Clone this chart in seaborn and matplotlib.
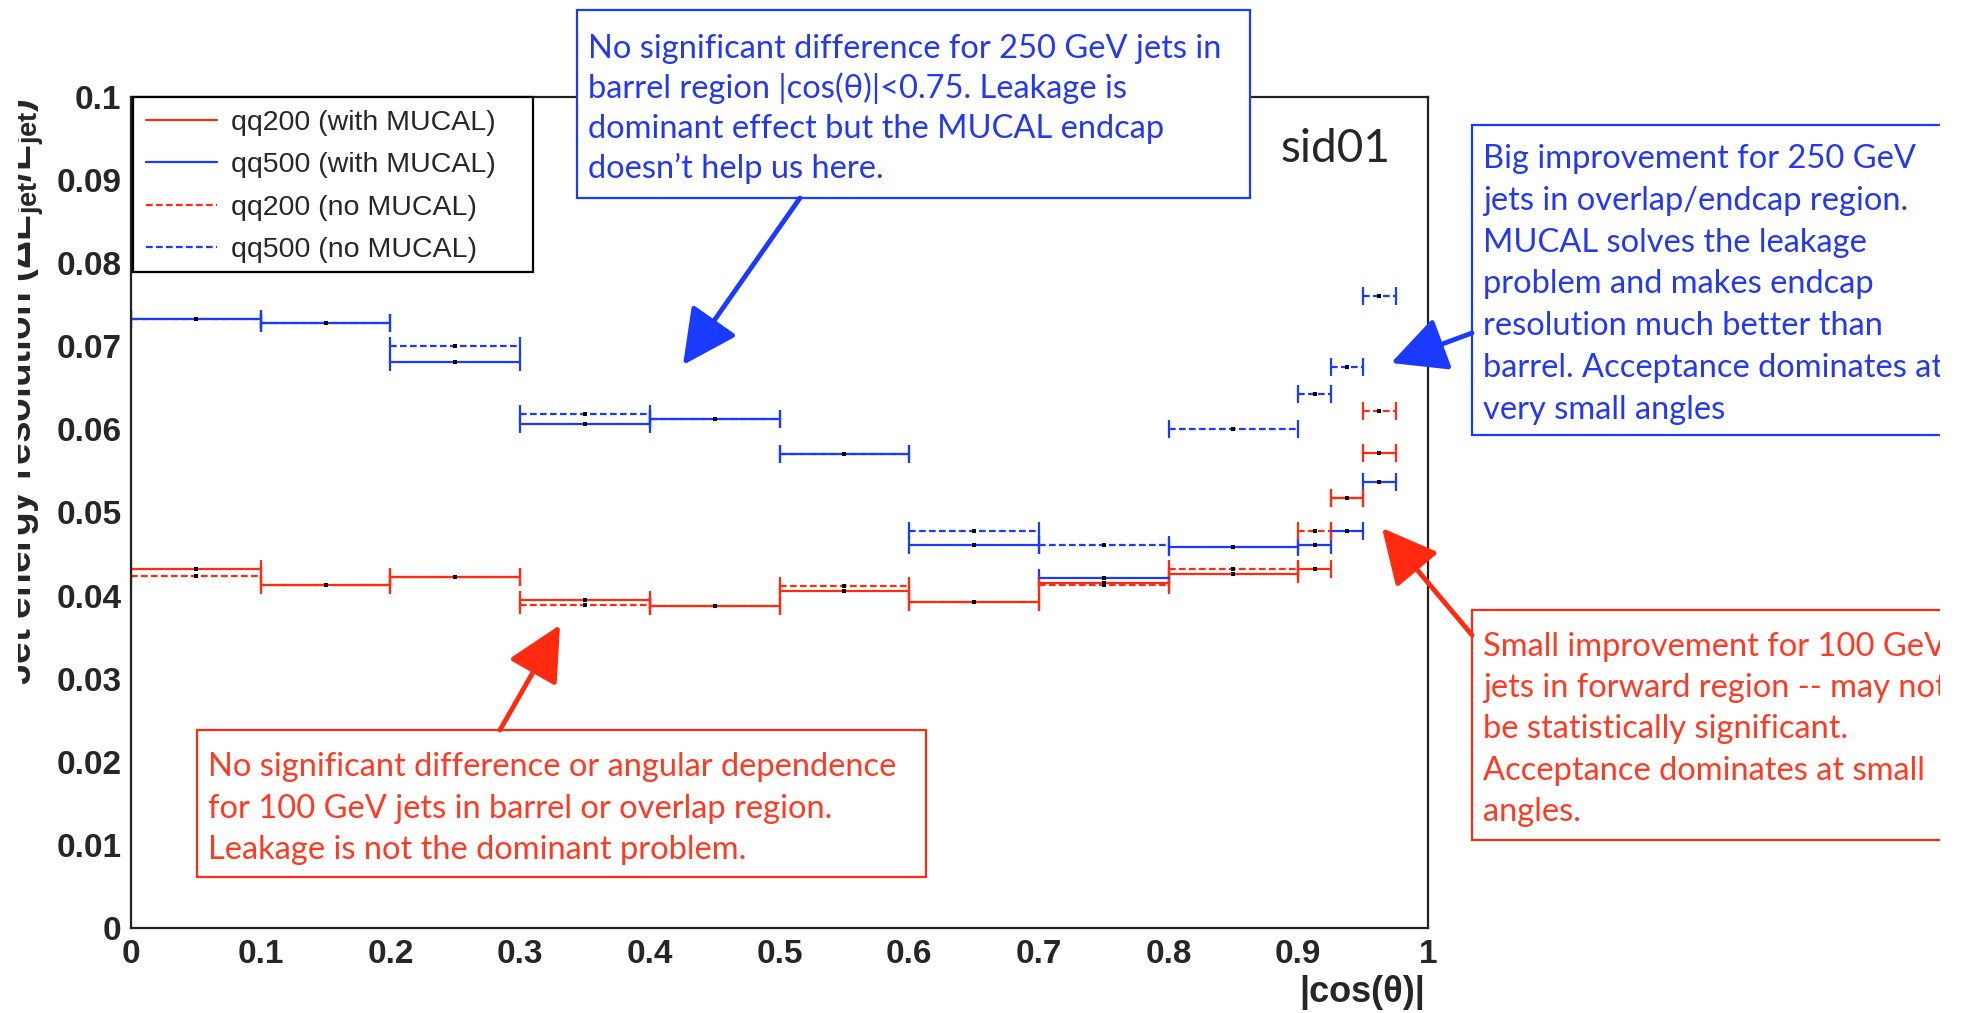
import numpy as np
import pandas as pd
import seaborn as sns
import matplotlib.pyplot as plt
from matplotlib.lines import Line2D
from matplotlib.patches import Rectangle, FancyArrowPatch
from matplotlib.transforms import Bbox, TransformedBbox
from matplotlib.ticker import MultipleLocator, FuncFormatter

# |cos(theta)| bins (low / high edges)
bin_lo = [0.0, 0.1, 0.2, 0.3, 0.4, 0.5, 0.6, 0.7, 0.8, 0.9, 0.925, 0.95]
bin_hi = [0.1, 0.2, 0.3, 0.4, 0.5, 0.6, 0.7, 0.8, 0.9, 0.925, 0.95, 0.975]

# jet energy resolution per bin
qq200_mucal = [0.0432, 0.0413, 0.0422, 0.0395, 0.0387, 0.0406, 0.0392, 0.0415, 0.0426, 0.0432, 0.0517, 0.0572]
qq500_mucal = [0.0733, 0.0728, 0.0681, 0.0606, 0.0613, 0.0570, 0.0461, 0.0421, 0.0458, 0.0461, 0.0478, 0.0537]
qq200_nomucal = [0.0423, 0.0413, 0.0422, 0.0389, 0.0387, 0.0412, 0.0392, 0.0413, 0.0432, 0.0478, 0.0517, 0.0622]
qq500_nomucal = [0.0733, 0.0728, 0.0700, 0.0619, 0.0613, 0.0570, 0.0478, 0.0461, 0.0600, 0.0643, 0.0675, 0.0760]

series_labels = ["qq200 (with MUCAL)", "qq500 (with MUCAL)", "qq200 (no MUCAL)", "qq500 (no MUCAL)"]
series_values = [qq200_mucal, qq500_mucal, qq200_nomucal, qq500_nomucal]

y_label = "Jet energy resolution (\u0394E$_{\\mathbf{jet}}$/E$_{\\mathbf{jet}}$)"
x_label = "|cos(\u03b8)|"
tag = "sid01"

note_barrel_250 = ["No significant difference for 250 GeV jets in",
                   "barrel region |cos(\u03b8)|<0.75. Leakage is",
                   "dominant effect but the MUCAL endcap",
                   "doesn\u2019t help us here."]
note_endcap_250 = ["Big improvement for 250 GeV",
                   "jets in overlap/endcap region.",
                   "MUCAL solves the leakage",
                   "problem and makes endcap",
                   "resolution much better than",
                   "barrel. Acceptance dominates at",
                   "very small angles"]
note_barrel_100 = ["No significant difference or angular dependence",
                   "for 100 GeV jets in barrel or overlap region.",
                   "Leakage is not the dominant problem."]
note_forward_100 = ["Small improvement for 100 GeV",
                    "jets in forward region -- may not",
                    "be statistically significant.",
                    "Acceptance dominates at small",
                    "angles."]

RED = "#ff2a10"
BLUE = "#1a3aff"
TXT_RED = "#ff3a22"
TXT_BLUE = "#2438f0"
colors = [RED, BLUE, RED, BLUE]
styles = ["-", "-", (0, (3, 1.5)), (0, (3, 1.5))]

# long tables for seaborn
seg_rows, cap_rows, mid_rows = [], [], []
for lab, vals in zip(series_labels, series_values):
    for i, (lo, hi, v) in enumerate(zip(bin_lo, bin_hi, vals)):
        seg_rows += [dict(series=lab, bin=i, x=lo, res=v), dict(series=lab, bin=i, x=hi, res=v)]
        cap_rows += [dict(series=lab, x=lo, res=v), dict(series=lab, x=hi, res=v)]
        mid_rows.append(dict(series=lab, x=(lo + hi) / 2, res=v))
seg = pd.DataFrame(seg_rows)
caps = pd.DataFrame(cap_rows)
mids = pd.DataFrame(mid_rows)

sns.set_style("white")
plt.rcParams["font.family"] = ["Liberation Sans", "DejaVu Sans"]
plt.rcParams["mathtext.fontset"] = "custom"
plt.rcParams["mathtext.bf"] = "Liberation Sans:bold"
plt.rcParams["mathtext.rm"] = "Liberation Sans:bold"

W, H = 1961, 1013
fig = plt.figure(figsize=(W / 100, H / 100), dpi=100)
fx = lambda px: px / W
fy = lambda py: 1 - py / H
ax = fig.add_axes([fx(131), fy(928), fx(1428) - fx(131), fy(97) - fy(928)])

for lab, col, ls in zip(series_labels, colors, styles):
    sns.lineplot(data=seg[seg.series == lab], x="x", y="res", units="bin", estimator=None,
                 sort=False, color=col, linewidth=1.6, linestyle=ls, ax=ax, legend=False)
    sns.scatterplot(data=caps[caps.series == lab], x="x", y="res", marker="|", s=160,
                    color=col, linewidth=1.6, ax=ax, legend=False)
sns.scatterplot(data=mids, x="x", y="res", marker="s", s=9, color="black",
                linewidth=0, ax=ax, legend=False, zorder=5)

ax.set_xlim(0, 1)
ax.set_ylim(0, 0.1)
ax.set_xlabel("")
ax.set_ylabel("")
ax.xaxis.set_major_locator(MultipleLocator(0.1))
ax.xaxis.set_minor_locator(MultipleLocator(0.02))
ax.yaxis.set_major_locator(MultipleLocator(0.01))
ax.yaxis.set_minor_locator(MultipleLocator(0.002))
fmt = FuncFormatter(lambda v, p: f"{v:g}")
ax.xaxis.set_major_formatter(fmt)
ax.yaxis.set_major_formatter(fmt)
ax.tick_params(axis="both", which="both", direction="in", top=False, right=False, width=1.5, color="black")
ax.tick_params(axis="y", which="major", length=29, pad=7, labelsize=24)
ax.tick_params(axis="y", which="minor", length=14)
ax.tick_params(axis="x", which="major", length=20, pad=8, labelsize=24)
ax.tick_params(axis="x", which="minor", length=11)
for t in ax.get_xticklabels() + ax.get_yticklabels():
    t.set_fontweight("bold")
for sp in ax.spines.values():
    sp.set_linewidth(1.6)
    sp.set_color("#222222")

# legend: entries without frame, box drawn on its own underneath
lbox = Rectangle((fx(133), fy(272)), fx(533) - fx(133), fy(97) - fy(272), transform=fig.transFigure,
                 facecolor="white", edgecolor="black", linewidth=1.6, zorder=6, clip_on=False)
ax.add_patch(lbox)
handles = [Line2D([], [], color=c, lw=1.6, ls=s) for c, s in zip(colors, styles)]
leg = ax.legend(handles, series_labels, loc="upper left", bbox_to_anchor=(fx(137), fy(101)),
                bbox_transform=fig.transFigure, borderaxespad=0, frameon=False,
                prop={"family": "Liberation Sans", "size": 20.5},
                handlelength=2.5, handletextpad=0.5, labelspacing=0.58, borderpad=0.3)
leg.set_zorder(7)

clip = TransformedBbox(Bbox.from_extents(fx(18), 0, fx(1940), 1), fig.transFigure)

t = fig.text(fx(32), fy(98), y_label, rotation=90, rotation_mode="anchor", ha="right",
             va="baseline", fontsize=28, fontweight="bold")
t.set_clip_box(clip)
t.set_clip_on(True)
fig.text(fx(1425), fy(1002), x_label, ha="right", va="baseline", fontsize=26, fontweight="bold")
fig.text(fx(1390), fy(162), tag, ha="right", va="baseline", fontsize=33, family="Lato")


def note(x0, y0, x1, y1, lines, first, step, col, edge):
    r = Rectangle((fx(x0), fy(y1)), fx(x1) - fx(x0), fy(y0) - fy(y1), transform=fig.transFigure,
                  facecolor="white", edgecolor=edge, linewidth=1.6, zorder=3)
    fig.add_artist(r)
    r.set_clip_box(clip)
    r.set_clip_on(True)
    for k, s in enumerate(lines):
        tt = fig.text(fx(x0 + 11), fy(first + k * step + 11), s, ha="left", va="baseline",
                      fontsize=23.5, family="Lato", color=col, zorder=4)
        tt.set_clip_box(clip)
        tt.set_clip_on(True)


def arrow(xa, ya, xb, yb, col):
    a = FancyArrowPatch((fx(xa), fy(ya)), (fx(xb), fy(yb)), transform=fig.transFigure,
                        arrowstyle="-|>,head_length=1.0,head_width=0.5", mutation_scale=34,
                        color=col, linewidth=3.5, shrinkA=0, shrinkB=0, zorder=4)
    fig.add_artist(a)


note(577, 10, 1250, 198, note_barrel_250, 47, 40, TXT_BLUE, BLUE)
note(1472, 125, 1990, 435, note_endcap_250, 157, 41.8, TXT_BLUE, BLUE)
note(197, 730, 926, 877, note_barrel_100, 765, 41.5, TXT_RED, RED)
note(1472, 610, 1990, 840, note_forward_100, 645, 41.2, TXT_RED, RED)

arrow(800, 198, 683, 365, BLUE)
arrow(1472, 333, 1391, 363, BLUE)
arrow(500, 730, 560, 625, RED)
arrow(1472, 635, 1382, 528, RED)

fig.savefig("out.png", dpi=100)
